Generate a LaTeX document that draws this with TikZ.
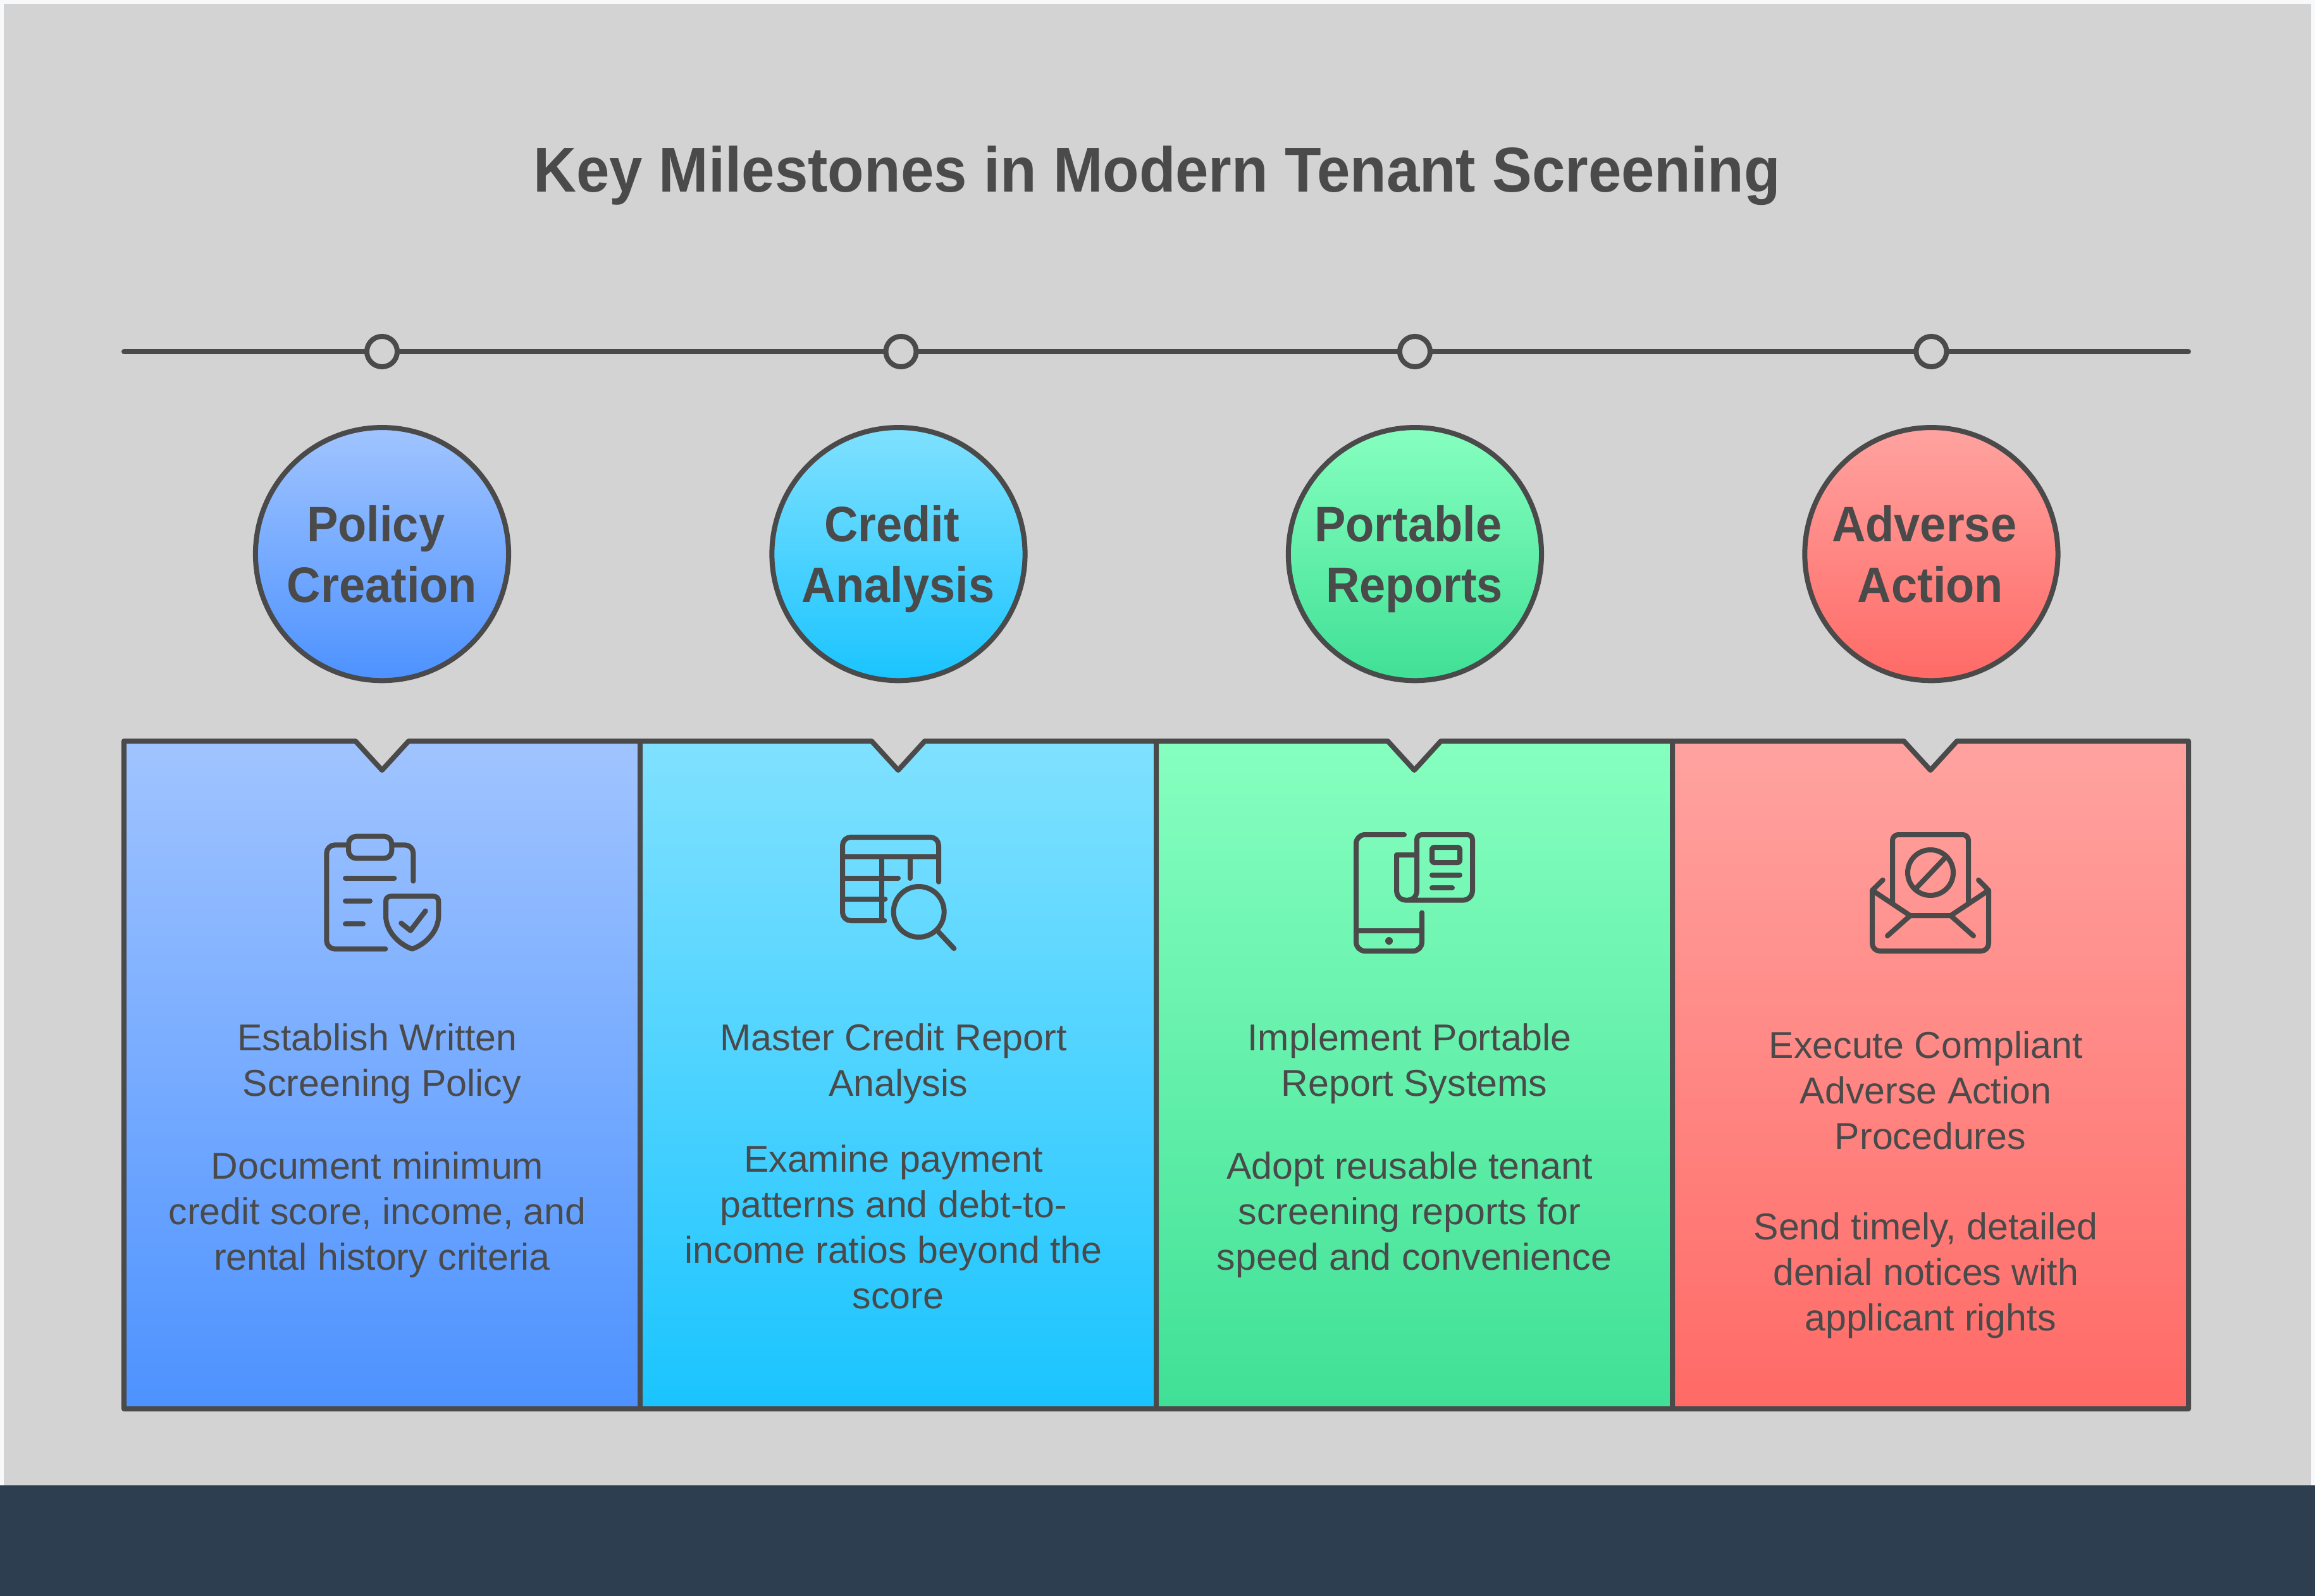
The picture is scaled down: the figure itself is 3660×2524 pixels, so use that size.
\documentclass[tikz,border=0pt]{standalone}
\usepackage{fontspec}
\setmainfont[BoldFeatures={FakeStretch=.94}]{Liberation Sans}
\usepackage{tikz}
\usetikzlibrary{positioning, chains}

\definecolor{ink}{HTML}{4A4A4A}
\definecolor{paper}{HTML}{F8F9FA}
\definecolor{sheet}{HTML}{D3D3D3}
\definecolor{band}{HTML}{2C3E50}
\definecolor{blueT}{HTML}{A0C4FF}
\definecolor{blueB}{HTML}{4D92FF}
\definecolor{cyanT}{HTML}{80E1FF}
\definecolor{cyanB}{HTML}{1AC4FF}
\definecolor{greenT}{HTML}{86FFBF}
\definecolor{greenB}{HTML}{40E096}
\definecolor{redT}{HTML}{FFA3A0}
\definecolor{redB}{HTML}{FF6A66}

% trailing space that the printed lines keep
\newcommand{\tsp}{\kern.25em\relax}

\tikzset{
	line/.style={draw=ink, line width=.08cm, line cap=round, line join=round},
	dot/.style={circle, draw=ink, line width=.08cm, fill=sheet, minimum size=.48cm, inner sep=0pt},
	stage/.style={circle, draw=ink, line width=.08cm, minimum size=4cm, inner sep=0pt},
	stagetext/.style={anchor=base, align=center, text=ink, inner sep=0pt, font=\fontsize{22.4pt}{27.3pt}\selectfont\bfseries},
	bodytext/.style={anchor=base, align=center, text=ink, inner sep=0pt, font=\fontsize{16.8pt}{20.4pt}\selectfont},
	icon/.style={draw=ink, line width=.08cm, line cap=round, line join=round},
}

\begin{document}
\begin{tikzpicture}[x=.01cm, y=-.01cm, start chain=1 going right, node distance=7.6cm]
	\useasboundingbox (0,0) rectangle (3660,2524);
	\fill[paper] (0,0) rectangle (3660,2524);
	\fill[sheet] (6,6) rectangle (3654,2349);
	\fill[band] (0,2349) rectangle (3660,2524);

	\node[anchor=base, text=ink, inner sep=0pt, font=\fontsize{28.5pt}{34pt}\selectfont\bfseries] (title) at (1829,303) {Key Milestones in Modern Tenant Screening};

	% timeline
	\coordinate (linestart) at (196,556);
	\coordinate (lineend) at (3460,556);
	\node[dot, on chain=1] (dotA) at (604,556) {};
	\node[dot, on chain=1, xshift=.04cm] (dotB) {};
	\node[dot, on chain=1, xshift=-.04cm] (dotC) {};
	\node[dot, on chain=1] (dotD) {};
	\draw[line] (linestart) -- (dotA);
	\draw[line] (dotA) -- (dotB);
	\draw[line] (dotB) -- (dotC);
	\draw[line] (dotC) -- (dotD);
	\draw[line] (dotD) -- (lineend);

	% circles
	\node[stage, below=.88cm of dotA, top color=blueT, bottom color=blueB] (policy) {};
	\node[stage, below=.88cm of dotB, xshift=-.04cm, top color=cyanT, bottom color=cyanB] (credit) {};
	\node[stage, below=.88cm of dotC, top color=greenT, bottom color=greenB] (portable) {};
	\node[stage, below=.88cm of dotD, top color=redT, bottom color=redB] (adverse) {};
	\node[stagetext] (policytext) at (604,952) {Policy\tsp\\Creation};
	\node[stagetext] (credittext) at (1420,952) {Credit\tsp\\Analysis};
	\node[stagetext] (portabletext) at (2236,952) {Portable\tsp\\Reports};
	\node[stagetext] (adversetext) at (3052,952) {Adverse\tsp\\Action};

	% panels
	\draw[line, line cap=butt, top color=blueT, bottom color=blueB] (196,1172) -- (562,1172) -- (604,1218) -- (646,1172) -- (1012,1172) -- (1012,2228) -- (196,2228) -- cycle;
	\draw[line, line cap=butt, top color=cyanT, bottom color=cyanB] (1012,1172) -- (1378,1172) -- (1420,1218) -- (1462,1172) -- (1828,1172) -- (1828,2228) -- (1012,2228) -- cycle;
	\draw[line, line cap=butt, top color=greenT, bottom color=greenB] (1828,1172) -- (2194,1172) -- (2236,1218) -- (2278,1172) -- (2644,1172) -- (2644,2228) -- (1828,2228) -- cycle;
	\draw[line, line cap=butt, top color=redT, bottom color=redB] (2644,1172) -- (3010,1172) -- (3052,1218) -- (3094,1172) -- (3460,1172) -- (3460,2228) -- (2644,2228) -- cycle;

	% clipboard
	\begin{scope}[shift={(440,1260)}, scale=1/3]
		\draw[icon, rounded corners=.13cm] (333,229) -- (229,229) -- (229,722) -- (508,722);
		\draw[icon, rounded corners=.13cm] (538,229) -- (640,229) -- (640,400);
		\draw[icon, rounded corners=.12cm] (333,188) rectangle (538,292);
		\draw[icon] (318,387) -- (550,387);
		\draw[icon] (318,495) -- (435,495);
		\draw[icon] (318,603) -- (402,603);
		\draw[icon] (510,565) -- (510,497) .. controls (510,480) and (520,472) .. (537,472) -- (733,472) .. controls (750,472) and (760,480) .. (760,497) -- (760,565) .. controls (760,640) and (695,702) .. (635,722) .. controls (575,702) and (510,640) .. (510,565) -- cycle;
		\draw[icon] (583,600) -- (627,635) -- (698,542);
	\end{scope}

	% table and lens
	\begin{scope}[shift={(1280,1260)}, scale=1/3]
		\draw[icon, rounded corners=.13cm] (355,588) -- (156,588) -- (156,192) -- (612,192) -- (612,404);
		\draw[icon] (156,286) -- (612,286);
		\draw[icon] (342,286) -- (342,588);
		\draw[icon] (476,286) -- (476,387);
		\draw[icon] (156,386) -- (420,386);
		\draw[icon] (156,485) -- (358,485);
		\draw[icon] (518,546) circle[radius=120];
		\draw[icon] (608,638) -- (685,720);
	\end{scope}

	% phone and paper
	\begin{scope}[shift={(2100,1260)}, scale=1/3]
		\draw[icon, rounded corners=.14cm] (360,180) -- (132,180) -- (132,732) -- (444,732) -- (444,550);
		\draw[icon] (132,636) -- (444,636);
		\fill[ink] (288,684) circle[radius=18];
		\draw[icon] (420,276) -- (324,276) -- (324,444) .. controls (324,475) and (345,491) .. (372,491) -- (636,491) .. controls (665,491) and (684,470) .. (684,444) -- (684,204) .. controls (684,190) and (672,180) .. (660,180) -- (444,180) .. controls (430,180) and (420,190) .. (420,204) -- (420,444) .. controls (420,475) and (400,491) .. (372,491);
		\draw[icon, rounded corners=.03cm] (492,240) rectangle (624,312);
		\draw[icon] (492,372) -- (624,372);
		\draw[icon] (492,432) -- (588,432);
	\end{scope}

	% envelope
	\begin{scope}[shift={(2900,1260)}, scale=1/3]
		\draw[icon, rounded corners=.09cm] (276,500) -- (276,180) -- (636,180) -- (636,495);
		\draw[icon] (456,360) circle[radius=108];
		\draw[icon] (392,430) -- (525,290);
		\draw[icon] (230,395) -- (180,444) -- (360,564) -- (552,564) -- (732,444) -- (684,395);
		\draw[icon] (252,660) -- (360,564);
		\draw[icon] (660,660) -- (552,564);
		\draw[icon, rounded corners=.12cm] (180,444) -- (180,732) -- (732,732) -- (732,444);
	\end{scope}

	% texts
	\node[bodytext] (policyhead) at (604,1733) {Establish Written\tsp\\Screening Policy};
	\node[bodytext] (policybody) at (604,2008) {Document minimum\tsp\\credit score, income, and\tsp\\rental history criteria};
	\node[bodytext] (credithead) at (1420,1733) {Master Credit Report\tsp\\Analysis};
	\node[bodytext] (creditbody) at (1420,2069) {Examine payment\tsp\\patterns and debt-to-\tsp\\income ratios beyond the\tsp\\score};
	\node[bodytext] (portablehead) at (2236,1733) {Implement Portable\tsp\\Report Systems};
	\node[bodytext] (portablebody) at (2236,2008) {Adopt reusable tenant\tsp\\screening reports for\tsp\\speed and convenience};
	\node[bodytext] (adversehead) at (3052,1817) {Execute Compliant\tsp\\Adverse Action\tsp\\Procedures};
	\node[bodytext] (adversebody) at (3052,2104) {Send timely, detailed\tsp\\denial notices with\tsp\\applicant rights};
\end{tikzpicture}
\end{document}
